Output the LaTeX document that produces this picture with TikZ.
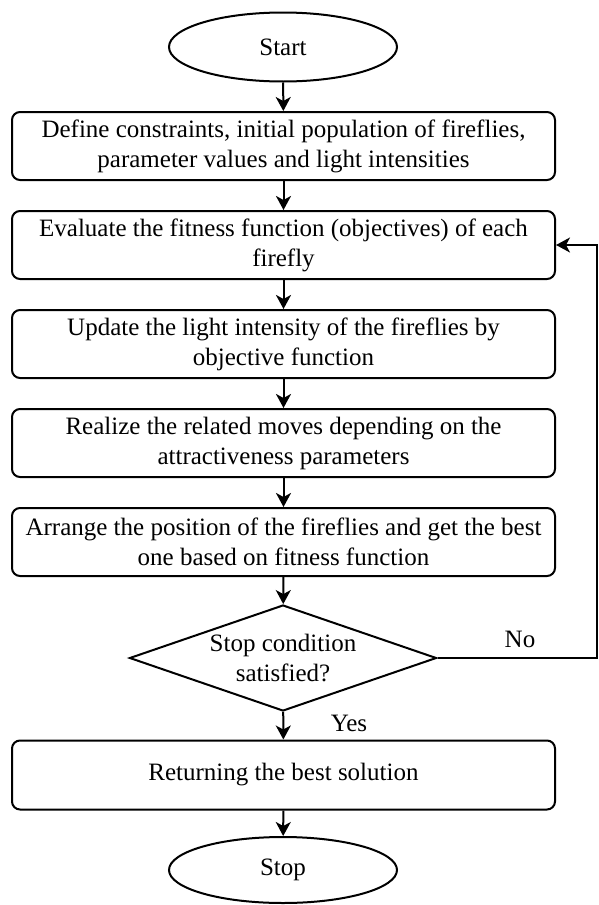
\documentclass[tikz,border=0pt]{standalone}
\usepackage{fontspec}
\setmainfont{Liberation Serif}
\usepackage{tikz}
\usetikzlibrary{shapes,arrows,arrows.meta,positioning,calc}

\begin{document}
\begin{tikzpicture}[x=1pt, y=-1pt,
    every node/.style={font=\fontsize{25}{30}\selectfont},
    terminal/.style={draw, ellipse, line width=2pt, minimum width=228pt, minimum height=69pt},
    process/.style={draw, rectangle, rounded corners=8pt, line width=2pt, align=center,
      minimum width=543pt, minimum height=68pt, inner sep=0pt},
    decision/.style={draw, diamond, line width=2pt, align=center, aspect=2.9,
      minimum width=307pt, minimum height=106pt, inner sep=0pt},
    flow/.style={line width=2pt, -{Stealth[length=14pt, width=15pt, inset=4pt]}}]
    \useasboundingbox (0,0) rectangle (598,905);
    % Firefly algorithm flow, one step under the other on x = 283
    \node[terminal] (start) at (283, 47) {Start};
    \node[process] (init) at (283.5, 146)
      {Define constraints, initial population of fireflies,\\parameter values and light intensities};
    \node[process] (evaluate) at (283.5, 245)
      {Evaluate the fitness function (objectives) of each\\firefly};
    \node[process] (update) at (283.5, 344)
      {Update the light intensity of the fireflies by\\objective function};
    \node[process] (moves) at (283.5, 443)
      {Realize the related moves depending on the\\attractiveness parameters};
    \node[process] (arrange) at (283.5, 542)
      {Arrange the position of the fireflies and get the best\\one based on fitness function};
    \node[decision] (check) at (283, 658) {Stop condition\\satisfied?};
    \node[process, minimum height=69pt] (result) at (283.5, 775) {Returning the best solution};
    \node[terminal, minimum height=66pt] (stop) at (283, 870) {Stop};
    % Branch labels
    \node (yes) at (349, 723) {Yes};
    \node (no) at (520, 639) {No};
    % Main flow
    \draw[flow] (start) -- (init);
    \draw[flow] (init) -- (evaluate);
    \draw[flow] (evaluate) -- (update);
    \draw[flow] (update) -- (moves);
    \draw[flow] (moves) -- (arrange);
    \draw[flow] (arrange) -- (check);
    \draw[flow] (check) -- (result);
    \draw[flow] (result) -- (stop);
    % Loop back when the stop condition fails
    \coordinate (back) at (597, 658);
    \draw[flow] (check.east) -- (back) |- (evaluate.east);
\end{tikzpicture}
\end{document}
